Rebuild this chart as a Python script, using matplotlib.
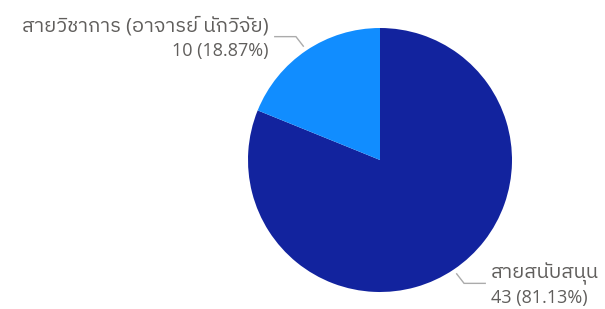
import os
import numpy as np
import matplotlib
matplotlib.use("Agg")
import matplotlib.pyplot as plt
from matplotlib import font_manager

# ---- data ----
categories = ["สายสนับสนุน", "สายวิชาการ (อาจารย์ นักวิจัย)"]
values = [43, 10]
colors = ["#12239E", "#118DFF"]

# ---- font with Thai coverage ----
prefs = ["NotoSansThaiUI-Regular", "NotoSansThai-Regular", "IBMPlexSansThai-Regular",
         "Sarabun-Regular", "Kanit-Light", "Prompt-Regular"]
files = font_manager.findSystemFonts()
thai_family = None
for p in prefs:
    for f in files:
        if os.path.basename(f).startswith(p + "."):
            font_manager.fontManager.addfont(f)
            thai_family = font_manager.FontProperties(fname=f).get_name()
            break
    if thai_family:
        break
fams = ["Open Sans"] + ([thai_family] if thai_family else []) + ["DejaVu Sans"]
plt.rcParams["font.family"] = fams

W, H = 605, 309
fig = plt.figure(figsize=(W / 100, H / 100), dpi=100)
cx, cy, r = 380, 160, 132
ax = fig.add_axes([(cx - r) / W, (H - cy - r) / H, 2 * r / W, 2 * r / H])

wedges, _ = ax.pie(values, colors=colors, startangle=90, counterclock=False,
                   radius=1, center=(0, 0), wedgeprops=dict(linewidth=0))
ax.set_xlim(-1, 1)
ax.set_ylim(-1, 1)
ax.set_aspect("equal")
ax.axis("off")

total = sum(values)
txtc = "#605E5C"
linec = "#ABABAB"
for w, cat, v in zip(wedges, categories, values):
    ang = np.deg2rad((w.theta1 + w.theta2) / 2)
    x0, y0 = np.cos(ang) * 1.04, np.sin(ang) * 1.04
    sx = 1 if x0 > 0 else -1
    sy = 1 if y0 > 0 else -1
    x1, y1 = x0 + sx * 0.056, y0 + sy * 0.072
    x2 = x1 + sx * 0.16
    ax.plot([x0, x1, x2], [y0, y1, y1], color=linec, lw=1.0, clip_on=False,
            solid_joinstyle="miter")
    ha = "left" if sx > 0 else "right"
    tx = x2 + sx * 0.045
    ax.text(tx, y1 + 0.075, cat, ha=ha, va="center", color=txtc,
            fontsize=14.5, clip_on=False)
    ax.text(tx, y1 - 0.11, f"{v} ({v / total * 100:.2f}%)", ha=ha, va="center",
            color=txtc, fontsize=13, clip_on=False)

fig.savefig("out.png", dpi=100)
